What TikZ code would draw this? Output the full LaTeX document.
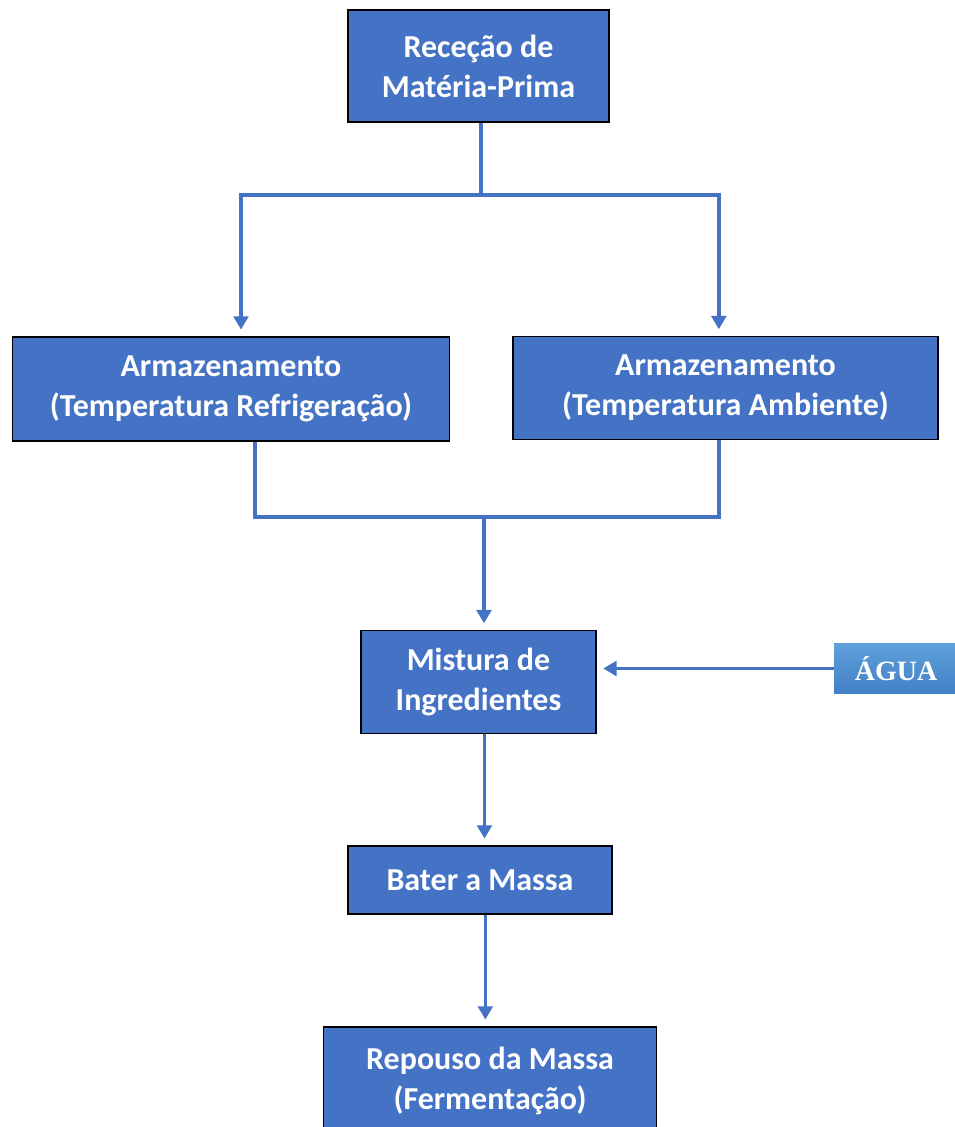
\documentclass[tikz,border=0pt]{standalone}
\usepackage{fontspec}
\setmainfont{Carlito}
\newfontfamily\aguafont{Liberation Serif}
\usepackage{tikz}
\usetikzlibrary{arrows.meta,positioning}
\definecolor{flowblue}{RGB}{68,114,196}
\definecolor{agualight}{RGB}{96,160,218}
\definecolor{aguadark}{RGB}{66,128,198}
\tikzstyle{process} = [rectangle, inner sep=0pt, text centered, align=center, draw=black, line width=1.1pt, fill=flowblue, text=white, font=\fontsize{24}{30}\selectfont\bfseries]
\tikzstyle{input} = [rectangle, inner sep=0pt, minimum width=93pt, minimum height=38pt, top color=agualight, bottom color=aguadark, draw=none, text=white, font=\aguafont\fontsize{21}{24}\selectfont\bfseries]
\tikzstyle{line} = [line width=2.6pt, color=flowblue]
\tikzstyle{arrow} = [line, -{Triangle[width=11pt,length=10pt]}, shorten >=5pt]

\begin{document}
\begin{tikzpicture}[x=0.75pt, y=-0.75pt]
\useasboundingbox (0,0) rectangle (955,1127);

% Process steps
\node[process, minimum width=196pt, minimum height=84pt] (rececao) at (478.5,66) {Receção de\\Matéria-Prima};
\node[process, minimum width=328pt, minimum height=78pt] (refrig) at (231,389) {Armazenamento\\(Temperatura Refrigeração)};
\node[process, minimum width=319pt, minimum height=77pt] (ambiente) at (725.5,388) {Armazenamento\\(Temperatura Ambiente)};
\node[process, minimum width=176pt, minimum height=77pt] (mistura) at (478.5,682) {Mistura de\\Ingredientes};
\node[process, minimum width=198pt, minimum height=51pt] (bater) at (480,880) {Bater a Massa};
\node[process, minimum width=250pt, minimum height=81pt] (repouso) at (490,1081) {Repouso da Massa\\(Fermentação)};

% Water input
\node[input] (agua) at (896,668.5) {ÁGUA};

% Junctions
\coordinate (split) at (481,195);
\coordinate (merge) at (484,517);

% Arrows
\draw[line] (rececao.south -| split) -- (split);
\draw[arrow] (split) -| ([xshift=7.5pt]refrig.north);
\draw[arrow] (split) -| ([xshift=-5pt]ambiente.north);
\draw[line] ([xshift=18pt]refrig.south) |- (merge) -| ([xshift=-5pt]ambiente.south);
\draw[arrow] (merge) -- (merge |- mistura.north);
\draw[arrow] (agua.west) -- (agua.west -| mistura.east);
\draw[arrow] ([xshift=4.5pt]mistura.south) -- ([xshift=4.5pt]mistura.south |- bater.north);
\draw[arrow] ([xshift=4pt]bater.south) -- ([xshift=4pt]bater.south |- repouso.north);
\end{tikzpicture}
\end{document}
